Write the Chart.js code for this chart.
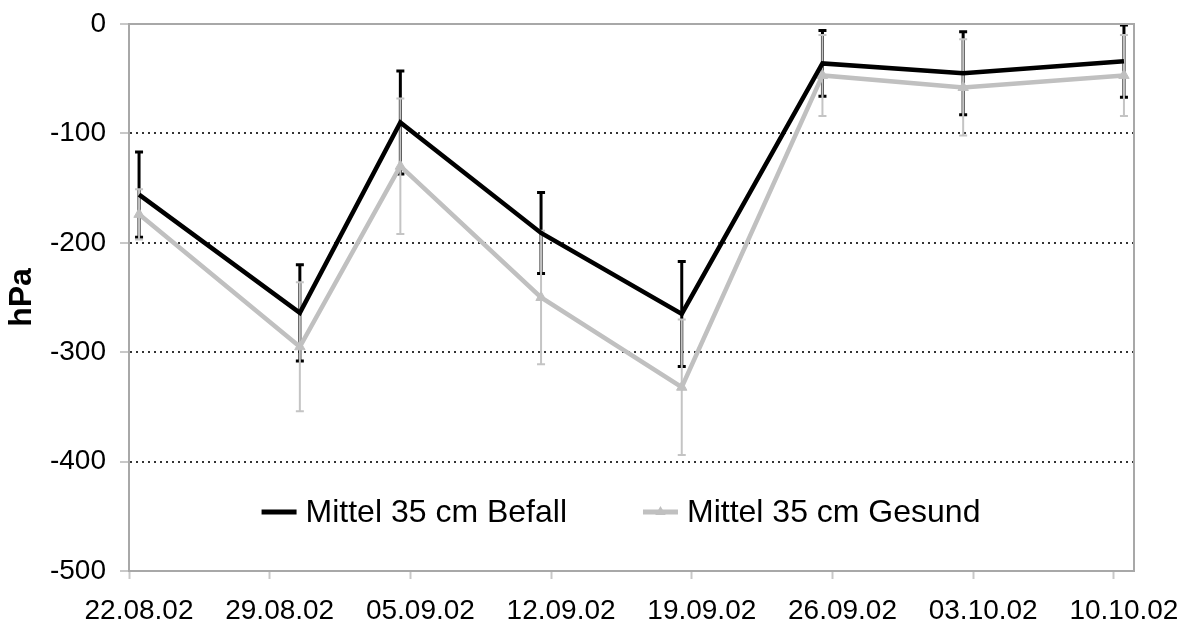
<!DOCTYPE html>
<html><head><meta charset="utf-8">
<script src="https://cdn.jsdelivr.net/npm/chart.js@4.4.1/dist/chart.umd.min.js"></script>
<style>html,body{margin:0;padding:0;background:#fff}#wrap{width:1187px;height:625px}</style>
</head><body><div id="wrap"><canvas id="c" width="1187" height="625"></canvas></div>
<script>
// ---- data ----
const axisStart = '2002-08-22';
const axisEnd = '2002-10-11';
const sampleDates = ['2002-08-22','2002-08-30','2002-09-04','2002-09-11','2002-09-18','2002-09-25','2002-10-02','2002-10-10'];
const tickLabels = ['22.08.02','29.08.02','05.09.02','12.09.02','19.09.02','26.09.02','03.10.02','10.10.02'];
const befall    = [-156, -264, -90, -191, -265, -36, -45, -34];
const befallErr = [  39,   44,  47,   37,   48,  30,  38,  33];
const gesund    = [-174, -295, -130, -250, -332, -47, -58, -47];
const gesundErr = [  23,   59,   62,   61,   62,  37,  44,  37];
const seriesNames = ['Mittel 35 cm Befall', 'Mittel 35 cm Gesund'];
const yMin = -500, yMax = 0, yStep = 100;
const yTitle = 'hPa';

// ---- helpers ----
function dayIndex(s){ return Math.round((Date.parse(s+'T00:00:00Z') - Date.parse(axisStart+'T00:00:00Z'))/86400000); }
function labelToISO(l){ const p = l.split('.'); return '20'+p[2]+'-'+p[1]+'-'+p[0]; }
const xs = sampleDates.map(d => dayIndex(d) + 0.5); // centre of the day slot
const tickDays = tickLabels.map(l => dayIndex(labelToISO(l)));
const FONT = "'Liberation Sans', Arial, sans-serif";

const errorBars = {
  id: 'errorBars',
  beforeDatasetsDraw(chart){
    const ctx = chart.ctx, ys = chart.scales.y;
    chart.data.datasets.forEach((ds, i) => {
      const meta = chart.getDatasetMeta(i);
      const st = ds.errStyle;
      meta.data.forEach((pt, j) => {
        const v = ds.data[j].y, e = ds.errors[j];
        const t = ys.getPixelForValue(v + e), b = ys.getPixelForValue(v - e);
        ctx.save();
        ctx.strokeStyle = st.color; ctx.lineWidth = st.width;
        ctx.beginPath();
        ctx.moveTo(pt.x, t); ctx.lineTo(pt.x, b); ctx.stroke();
        ctx.lineWidth = st.capWidth;
        ctx.beginPath();
        ctx.moveTo(pt.x - st.cap, t); ctx.lineTo(pt.x + st.cap, t);
        ctx.moveTo(pt.x - st.cap, b); ctx.lineTo(pt.x + st.cap, b);
        ctx.stroke();
        ctx.restore();
      });
    });
  }
};

const frame = {
  id: 'frame',
  beforeDatasetsDraw(chart){
    const {ctx, chartArea: a} = chart;
    ctx.save();
    ctx.strokeStyle = '#a8a8a8'; ctx.lineWidth = 2;
    ctx.beginPath();
    ctx.moveTo(a.left, a.top); ctx.lineTo(a.right, a.top); ctx.lineTo(a.right, a.bottom);
    ctx.stroke();
    ctx.restore();
  }
};

const innerLegend = {
  id: 'innerLegend',
  afterDraw(chart, args, opts){
    const ctx = chart.ctx;
    ctx.save();
    ctx.font = opts.fontSize + 'px ' + FONT;
    const items = chart.data.datasets.map(ds => ({ds, w: opts.sample + opts.gap + ctx.measureText(ds.label).width}));
    const total = items.reduce((s, it) => s + it.w, 0) + opts.itemGap * (items.length - 1);
    let x = opts.cx - total / 2;
    const y = opts.cy;
    items.forEach(it => {
      const ds = it.ds;
      ctx.strokeStyle = ds.borderColor; ctx.lineWidth = opts.lineWidth;
      ctx.beginPath(); ctx.moveTo(x, y); ctx.lineTo(x + opts.sample, y); ctx.stroke();
      if (ds.pointStyle === 'triangle' && ds.pointRadius > 0) {
        const r = ds.pointRadius, cx = x + opts.sample / 2;
        ctx.fillStyle = ds.pointBackgroundColor;
        ctx.beginPath();
        ctx.moveTo(cx, y - r); ctx.lineTo(cx + r * 0.87, y + r * 0.5); ctx.lineTo(cx - r * 0.87, y + r * 0.5);
        ctx.closePath(); ctx.fill();
      }
      ctx.fillStyle = '#000'; ctx.textBaseline = 'middle'; ctx.textAlign = 'left';
      ctx.fillText(ds.label, x + opts.sample + opts.gap, y + 1);
      x += it.w + opts.itemGap;
    });
    ctx.restore();
  }
};

new Chart(document.getElementById('c'), {
  type: 'line',
  data: {
    datasets: [
      {
        label: seriesNames[0],
        data: xs.map((x, i) => ({x, y: befall[i]})),
        errors: befallErr,
        errStyle: {color: '#000', width: 3, capWidth: 3, cap: 4},
        borderColor: '#000', backgroundColor: '#000',
        borderWidth: 4.5, pointRadius: 0, pointHoverRadius: 0, tension: 0
      },
      {
        label: seriesNames[1],
        data: xs.map((x, i) => ({x, y: gesund[i]})),
        errors: gesundErr,
        errStyle: {color: '#c4c4c4', width: 2, capWidth: 2, cap: 4},
        borderColor: '#c0c0c0', backgroundColor: '#c0c0c0',
        pointStyle: 'triangle', pointRadius: 6, pointBackgroundColor: '#c0c0c0', pointBorderColor: '#c0c0c0', pointBorderWidth: 1,
        borderWidth: 4.5, tension: 0
      }
    ]
  },
  options: {
    responsive: false, animation: false, devicePixelRatio: 1,
    layout: {padding: {top: 24, right: 53, left: 0, bottom: 0}},
    plugins: {
      legend: {display: false}, tooltip: {enabled: false},
      innerLegend: {cx: 621, cy: 512, fontSize: 32, sample: 35, gap: 9, itemGap: 76, lineWidth: 5}
    },
    scales: {
      x: {
        type: 'linear', min: 0, max: dayIndex(axisEnd),
        afterBuildTicks: s => { s.ticks = tickDays.map(v => ({value: v})); },
        afterFit: s => { s.height = 54; },
        grid: {drawOnChartArea: false, drawTicks: true, tickLength: 8, tickColor: '#c8c8c8', tickWidth: 2},
        border: {display: true, color: '#a8a8a8', width: 2},
        ticks: {autoSkip: false, maxRotation: 0, padding: 15, labelOffset: 10, color: '#000',
          font: {family: FONT, size: 28},
          callback: (v, i) => tickLabels[i]}
      },
      y: {
        min: yMin, max: yMax,
        ticks: {stepSize: yStep, padding: 14, color: '#000', font: {family: FONT, size: 28, lineHeight: 0.6}},
        afterFit: s => { s.width = 129; },
        grid: {color: c => (c.tick && (c.tick.value === yMin || c.tick.value === yMax)) ? 'rgba(0,0,0,0)' : '#333',
               lineWidth: 2, tickLength: 9, tickColor: '#c8c8c8', tickWidth: 2},
        border: {display: true, color: '#a8a8a8', width: 2, dash: [2, 4]},
        title: {display: true, text: yTitle, color: '#000', font: {family: FONT, size: 32, weight: 'bold', lineHeight: 1.2}, padding: {top: 3, bottom: 0}}
      }
    }
  },
  plugins: [errorBars, frame, innerLegend]
});
</script></body></html>
